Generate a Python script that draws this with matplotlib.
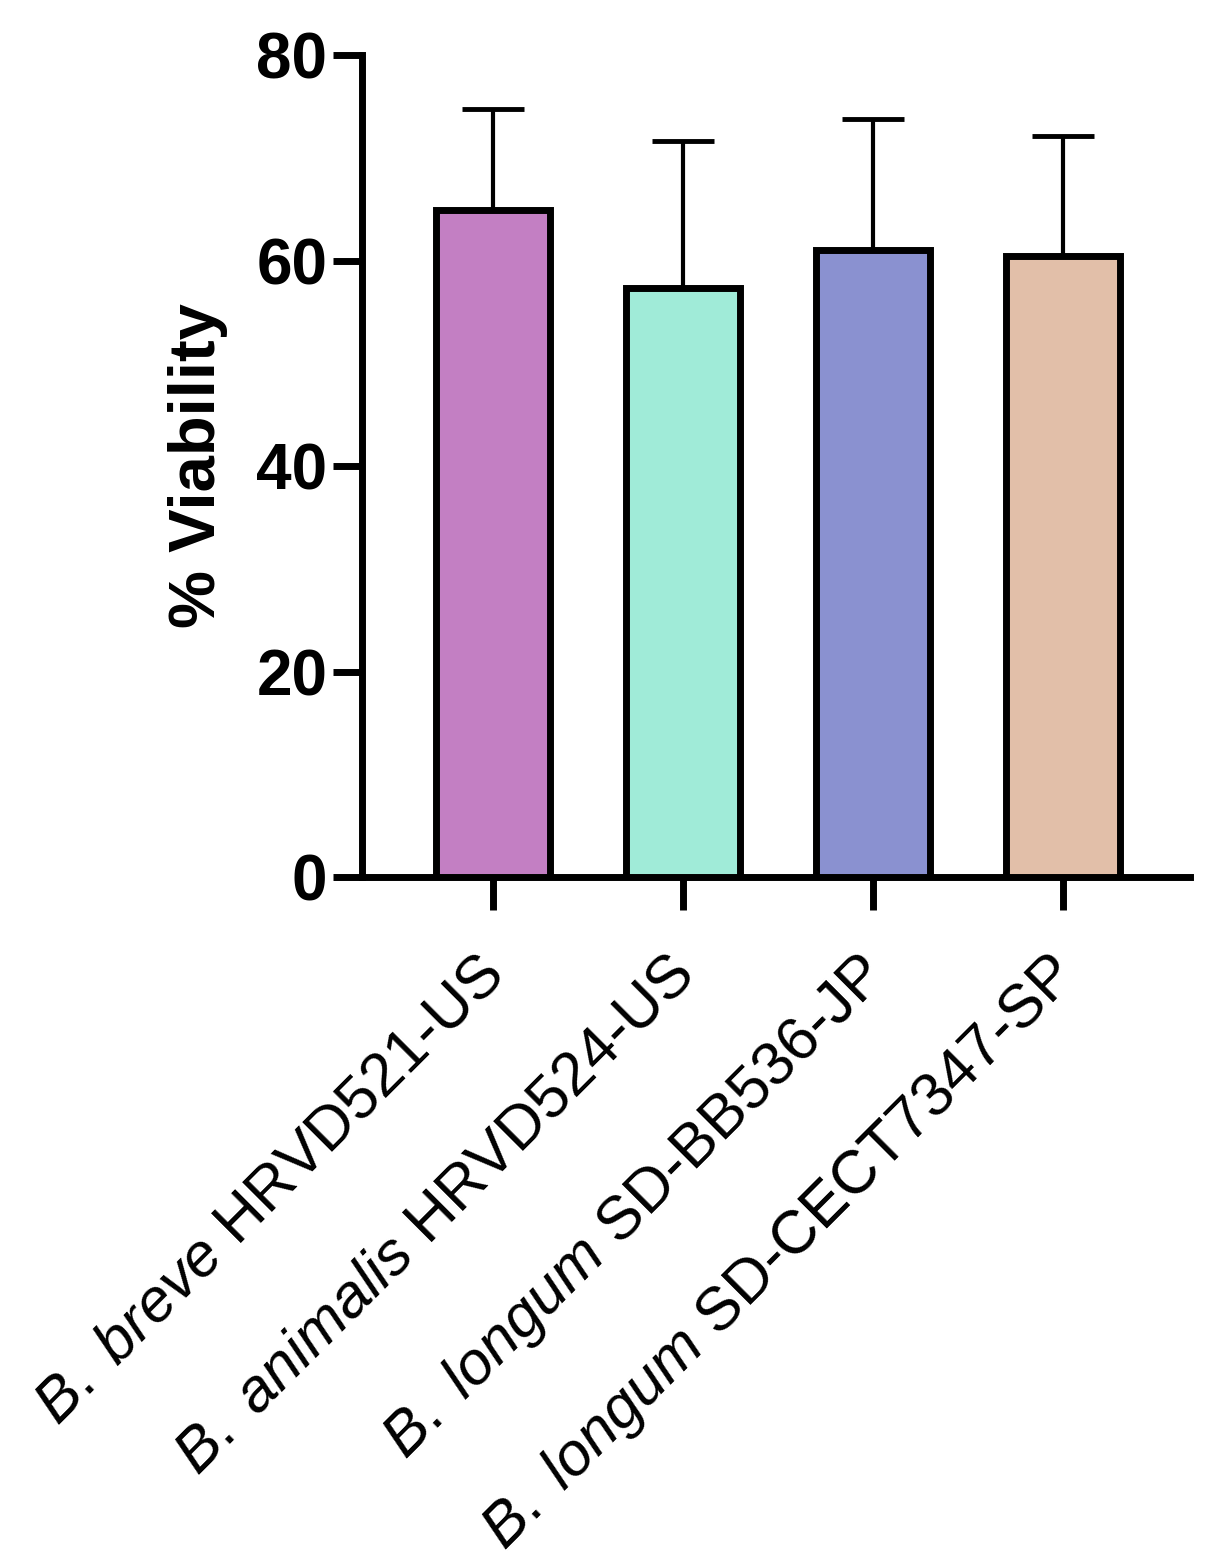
import matplotlib
matplotlib.use("Agg")
import matplotlib.pyplot as plt
import matplotlib.transforms as mtransforms
import numpy as np

categories = [r"$\mathit{B.\ breve}$ HRVD521-US",
              r"$\mathit{B.\ animalis}$ HRVD524-US",
              r"$\mathit{B.\ longum}$ SD-BB536-JP",
              r"$\mathit{B.\ longum}$ SD-CECT7347-SP"]
means = [64.9, 57.3, 61.0, 60.4]
upper_err = [9.8, 14.3, 12.8, 11.7]
colors = ["#C37FC3", "#A0EBD8", "#8A91D0", "#E2BFA9"]
yticks = [0, 20, 40, 60, 80]

plt.rcParams['font.family'] = ['Liberation Sans', 'DejaVu Sans']
plt.rcParams['mathtext.fontset'] = 'custom'
plt.rcParams['mathtext.rm'] = 'Liberation Sans'
plt.rcParams['mathtext.it'] = 'Liberation Sans:italic'
plt.rcParams['mathtext.bf'] = 'Liberation Sans:bold'

fig = plt.figure(figsize=(12.11, 15.63), dpi=100)
ax = fig.add_axes([0.299, 0.4389, 0.684, 0.5259])

x = np.arange(len(categories))
ax.bar(x, means, width=0.6, color=colors, edgecolor='black', linewidth=5, zorder=3)
ax.errorbar(x, means, yerr=[[0]*len(means), upper_err], fmt='none', ecolor='black',
            elinewidth=3, capsize=22, capthick=3.5, zorder=2)

ax.set_ylim(0, 80)
ax.set_xlim(-0.69, 3.67)
ax.set_yticks(yticks)
ax.set_yticklabels([str(v) for v in yticks], fontsize=46, fontweight='bold')
ax.set_xticks(x)
ax.set_xticklabels([''] * len(categories))
ax.set_ylabel('% Viability', fontsize=47, fontweight='bold', labelpad=20)

offset = mtransforms.ScaledTranslation(-0.18, -0.69, fig.dpi_scale_trans)
trans = ax.get_xaxis_transform() + offset
for xi, lab in zip(x, categories):
    ax.text(xi, 0, lab, transform=trans, fontsize=44, rotation=45,
            ha='right', va='top', rotation_mode='anchor', clip_on=False)

for s in ['top', 'right']:
    ax.spines[s].set_visible(False)
for s in ['left', 'bottom']:
    ax.spines[s].set_linewidth(5)
ax.tick_params(axis='y', length=21, width=5, pad=4)
ax.tick_params(axis='x', length=24, width=5, pad=10)

fig.savefig('out.png', dpi=100)
